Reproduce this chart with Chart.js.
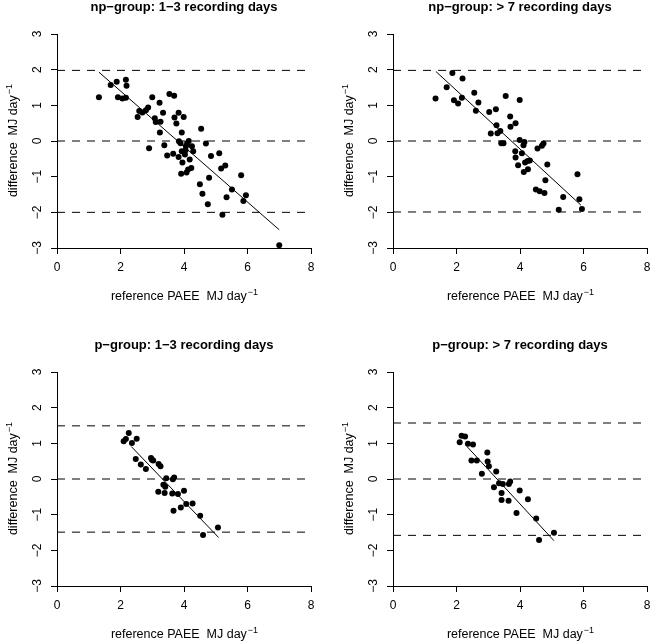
<!DOCTYPE html>
<html>
<head>
<meta charset="utf-8">
<script src="https://cdn.jsdelivr.net/npm/chart.js@4.4.0/dist/chart.umd.min.js"></script>
<style>
  body { margin: 0; background: #fff; width: 652px; height: 641px; overflow: hidden; position: relative; }
  canvas { position: absolute; }
</style>
</head>
<body>
<canvas id="p1" width="334" height="334" style="left:-13px;top:-6px"></canvas>
<canvas id="p2" width="334" height="334" style="left:323px;top:-6px"></canvas>
<canvas id="p3" width="334" height="334" style="left:-13px;top:332px"></canvas>
<canvas id="p4" width="334" height="334" style="left:323px;top:332px"></canvas>
<script>
/* eslint-disable*/

const FONT = "'Liberation Sans', Arial, sans-serif";

// np-group, 1-3 recording days
const npShortX = [1.32, 1.69, 1.88, 1.92, 2.06, 2.17, 2.19, 2.17, 2.54, 2.59, 2.69, 2.80, 2.87, 2.90, 3.00, 3.08, 3.11, 3.23, 3.24, 3.26, 3.34, 3.38, 3.47, 3.54, 3.66, 3.69, 3.70, 3.76, 3.83, 3.83, 3.84, 3.89, 3.91, 3.93, 3.93, 3.95, 3.99, 4.03, 4.06, 4.10, 4.08, 4.15, 4.18, 4.23, 4.25, 4.29, 4.50, 4.54, 4.58, 4.69, 4.75, 4.79, 4.85, 5.11, 5.17, 5.21, 5.30, 5.34, 5.51, 5.80, 5.87, 5.95, 7.00, 4.05, 4.13];
const npShortY = [1.23, 1.57, 1.66, 1.23, 1.19, 1.72, 1.55, 1.21, 0.67, 0.84, 0.80, 0.86, 0.94, -0.20, 1.23, 0.64, 0.53, 1.07, 0.24, 0.54, 0.79, -0.12, -0.41, 1.32, -0.36, 1.27, 0.66, 0.49, 0.79, -0.45, -0.01, -0.06, -0.92, 0.24, -0.29, -0.60, 0.67, -0.38, -0.15, -0.06, -0.88, 0.00, -0.52, -0.76, -0.15, -0.29, -1.21, 0.34, -1.48, -0.07, -1.77, -1.03, -0.42, -0.34, -0.77, -2.07, -0.69, -1.58, -1.36, -0.96, -1.68, -1.52, -2.92, -0.26, -0.80];
const npShortFitX = [1.32, 7.00];
const npShortFitY = [1.93, -2.49];
const npShortLimits = [1.98, 0, -2.00];

// np-group, > 7 recording days
const npLongX = [1.34, 1.69, 1.87, 1.92, 2.05, 2.19, 2.17, 2.56, 2.61, 2.69, 3.03, 3.08, 3.24, 3.26, 3.29, 3.38, 3.41, 3.48, 3.55, 3.69, 3.70, 3.86, 3.85, 3.86, 3.94, 3.99, 3.99, 4.06, 4.11, 4.14, 4.12, 4.16, 4.24, 4.25, 4.31, 4.50, 4.55, 4.62, 4.69, 4.74, 4.77, 4.80, 4.86, 5.22, 5.36, 5.81, 5.87, 5.95];
const npLongY = [1.19, 1.51, 1.91, 1.14, 1.05, 1.75, 1.21, 1.35, 0.85, 1.08, 0.81, 0.21, 0.89, 0.44, 0.22, 0.28, -0.06, -0.06, 1.26, 0.69, 0.40, 0.50, -0.29, -0.46, -0.68, 1.15, 0.03, -0.34, -0.12, -0.03, -0.87, -0.60, -0.56, -0.79, -0.55, -1.36, -0.21, -1.41, -0.13, -0.07, -1.46, -1.10, -0.66, -1.93, -1.57, -0.93, -1.63, -1.91];
const npLongFitX = [1.35, 5.92];
const npLongFitY = [1.95, -1.80];
const npLongLimits = [1.98, 0, -1.99];

// p-group, 1-3 recording days
const pShortX = [2.10, 2.17, 2.26, 2.36, 2.51, 2.48, 2.64, 2.80, 2.96, 2.99, 3.03, 3.19, 3.20, 3.26, 3.35, 3.39, 3.41, 3.44, 3.63, 3.65, 3.67, 3.69, 3.81, 3.90, 4.00, 4.07, 4.27, 4.51, 4.60, 5.07];
const pShortY = [1.06, 1.12, 1.29, 1.01, 1.13, 0.56, 0.41, 0.28, 0.59, 0.54, 0.52, -0.36, 0.42, 0.36, -0.16, -0.39, -0.22, 0.02, -0.41, -0.01, -0.89, 0.04, -0.42, -0.80, -0.33, -0.70, -0.69, -1.03, -1.57, -1.36];
const pShortFitX = [2.34, 5.09];
const pShortFitY = [0.91, -1.64];
const pShortLimits = [1.49, 0, -1.49];

// p-group, > 7 recording days
const pLongX = [2.10, 2.16, 2.27, 2.36, 2.52, 2.47, 2.64, 2.80, 2.97, 2.98, 3.02, 3.18, 3.25, 3.34, 3.42, 3.42, 3.46, 3.65, 3.69, 3.64, 3.89, 3.99, 4.25, 4.51, 4.60, 5.07];
const pLongY = [1.03, 1.21, 1.19, 0.99, 0.97, 0.52, 0.52, 0.15, 0.74, 0.49, 0.36, -0.23, 0.21, -0.12, -0.39, -0.59, -0.14, -0.14, -0.07, -0.61, -0.95, -0.32, -0.57, -1.11, -1.71, -1.51];
const pLongFitX = [2.33, 5.07];
const pLongFitY = [0.91, -1.73];
const pLongLimits = [1.57, 0, -1.58];

const xRange = [0, 8];
const yRange = [-3, 3];
const xStep = 2;
const yStep = 1;

const xTitle = ['reference PAEE  MJ day', '\u22121'];
const yTitle = ['difference  MJ day', '\u22121'];

function zip(xs, ys) {
  return xs.map((x, i) => ({ x: x, y: ys[i] }));
}

function minus(v) {
  return String(v).replace('-', '\u2212');
}

// text with a raised exponent, centred on (0,0) of the current transform
function supText(ctx, base, sup, size) {
  ctx.font = size + 'px ' + FONT;
  const w1 = ctx.measureText(base).width;
  ctx.font = (size * 0.72) + 'px ' + FONT;
  const w2 = ctx.measureText(sup).width;
  const start = -(w1 + w2) / 2;
  ctx.textAlign = 'left';
  ctx.textBaseline = 'alphabetic';
  ctx.font = size + 'px ' + FONT;
  ctx.fillText(base, start, size * 0.35);
  ctx.font = (size * 0.72) + 'px ' + FONT;
  ctx.fillText(sup, start + w1 + 1, size * 0.35 - size * 0.45);
}

const labelsPlugin = {
  id: 'rLabels',
  afterDraw(chart) {
    const ctx = chart.ctx;
    const a = chart.chartArea;
    const cx = (a.left + a.right) / 2;
    const cy = (a.top + a.bottom) / 2;
    ctx.save();
    ctx.fillStyle = '#000';
    ctx.font = 'bold 13px ' + FONT;
    ctx.textAlign = 'center';
    ctx.textBaseline = 'middle';
    ctx.fillText(chart.options.plugins.rLabels.title, cx, a.top - 27);

    ctx.save();
    ctx.translate(cx, a.bottom + 48);
    supText(ctx, xTitle[0], xTitle[1], 12.5);
    ctx.restore();

    ctx.save();
    ctx.translate(a.left - 44, cy);
    ctx.rotate(-Math.PI / 2);
    supText(ctx, yTitle[0], yTitle[1], 12.5);
    ctx.restore();
    ctx.restore();
  }
};

function makePanel(id, title, xs, ys, fitX, fitY, limits) {
  const ctx = document.getElementById(id);
  const datasets = [
    {
      data: zip(xs, ys),
      backgroundColor: '#000',
      borderColor: '#000',
      pointRadius: 3,
      pointBorderWidth: 0,
    },
    {
      data: zip(fitX, fitY),
      showLine: true,
      borderColor: '#000',
      borderWidth: 1,
      pointRadius: 0,
    },
  ];
  limits.forEach((v) => {
    datasets.push({
      data: zip(xRange, [v, v]),
      showLine: true,
      borderColor: '#000',
      borderWidth: 1,
      borderDash: [8, 7],
      pointRadius: 0,
    });
  });

  return new Chart(ctx, {
    type: 'scatter',
    data: { datasets: datasets },
    options: {
      responsive: false,
      animation: false,
      layout: { padding: { left: 0, top: 40, right: 10, bottom: 0 } },
      plugins: {
        legend: { display: false },
        tooltip: { enabled: false },
        rLabels: { title: title },
      },
      scales: {
        x: {
          type: 'linear',
          min: xRange[0],
          max: xRange[1],
          afterFit(scale) { scale.height = 80; },
          border: { display: true, color: '#000', width: 1 },
          grid: { drawOnChartArea: false, drawTicks: true, tickLength: 6, color: '#000', tickWidth: 1 },
          ticks: {
            stepSize: xStep,
            autoSkip: false,
            maxRotation: 0,
            minRotation: 0,
            padding: 6,
            color: '#000',
            font: { family: FONT, size: 12 },
            callback: (v) => minus(v),
          },
        },
        y: {
          type: 'linear',
          min: yRange[0],
          max: yRange[1],
          afterFit(scale) { scale.width = 70; },
          border: { display: true, color: '#000', width: 1 },
          grid: { drawOnChartArea: false, drawTicks: true, tickLength: 6, color: '#000', tickWidth: 1 },
          ticks: {
            stepSize: yStep,
            autoSkip: false,
            minRotation: 90,
            maxRotation: 90,
            crossAlign: 'center',
            padding: 6,
            color: '#000',
            font: { family: FONT, size: 12 },
            callback: (v) => minus(v),
          },
        },
      },
    },
    plugins: [labelsPlugin],
  });
}

makePanel('p1', 'np\u2212group: 1\u22123 recording days', npShortX, npShortY, npShortFitX, npShortFitY, npShortLimits);
makePanel('p2', 'np\u2212group: > 7 recording days', npLongX, npLongY, npLongFitX, npLongFitY, npLongLimits);
makePanel('p3', 'p\u2212group: 1\u22123 recording days', pShortX, pShortY, pShortFitX, pShortFitY, pShortLimits);
makePanel('p4', 'p\u2212group: > 7 recording days', pLongX, pLongY, pLongFitX, pLongFitY, pLongLimits);
</script>
</body>
</html>
